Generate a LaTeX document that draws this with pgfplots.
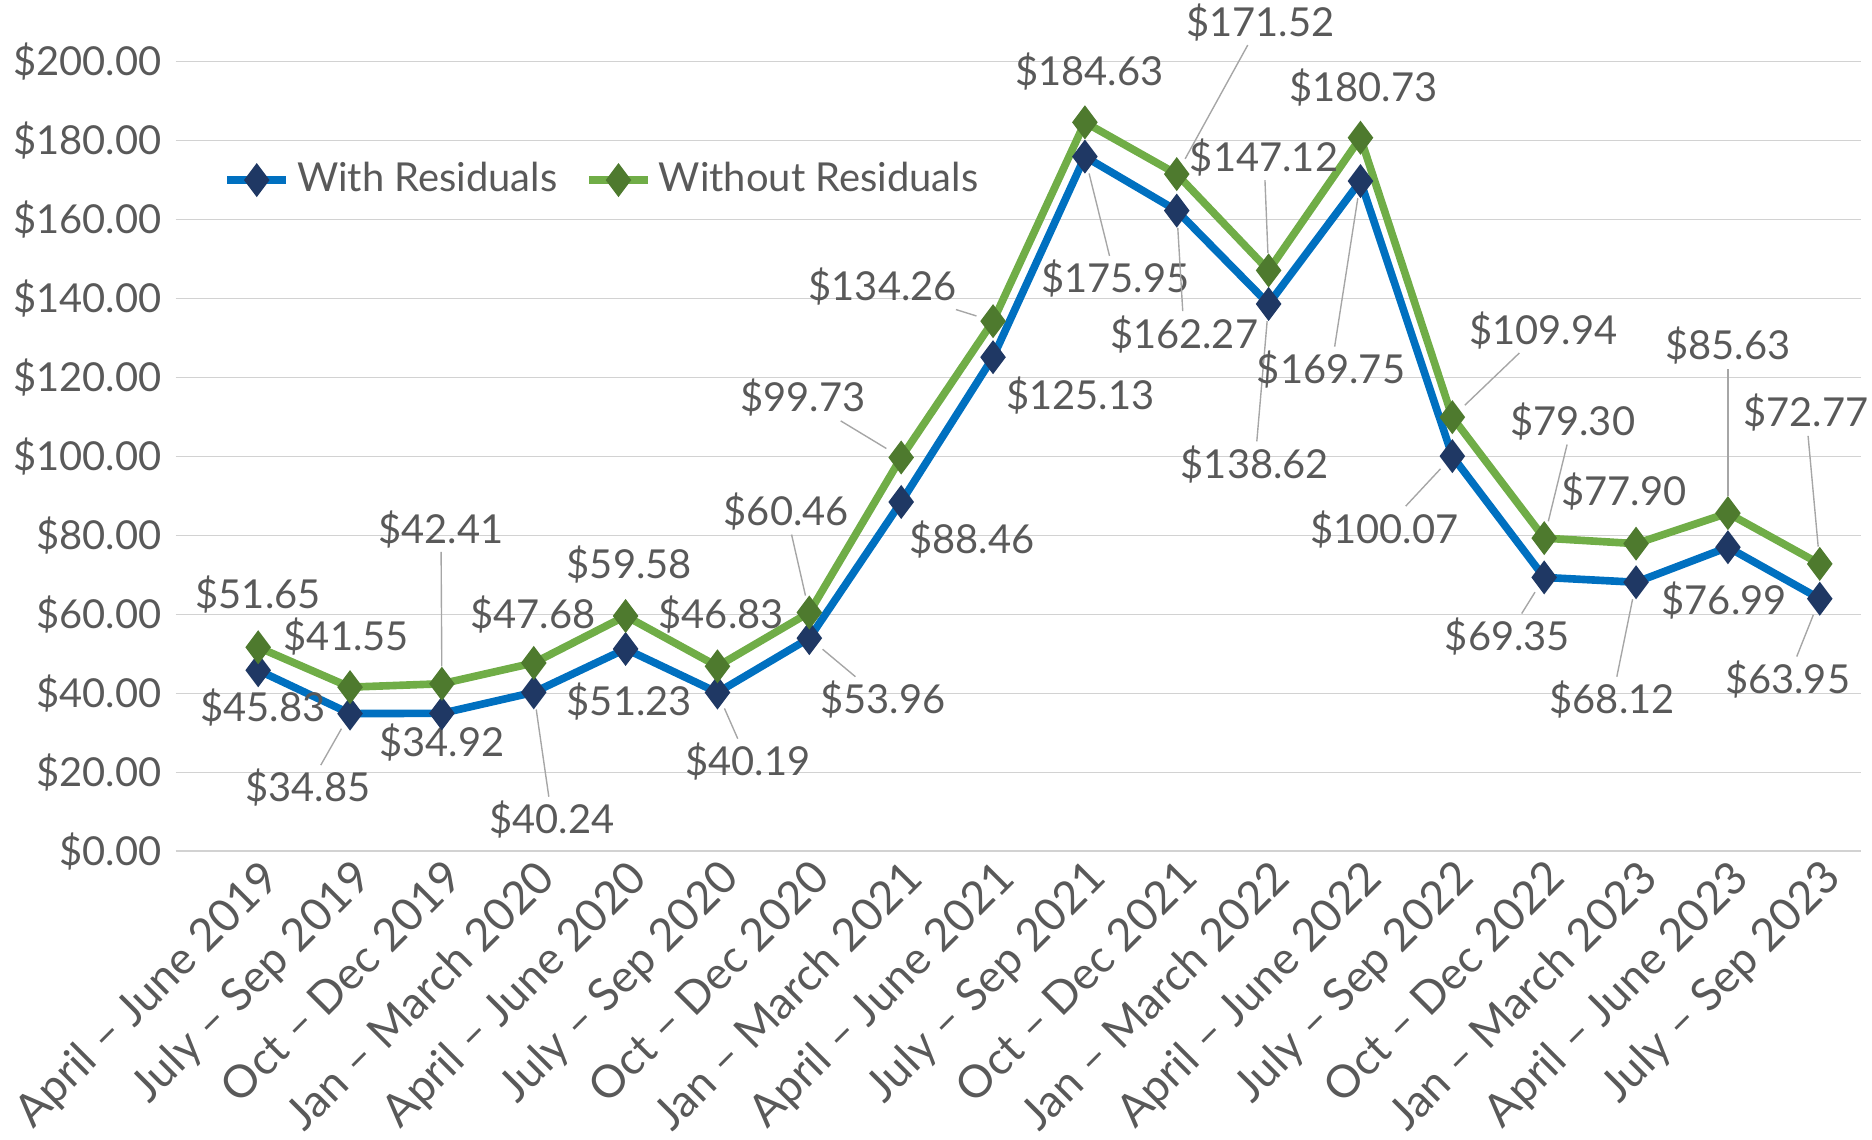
\documentclass[border=0pt]{standalone}
\usepackage{pgfplots}
\pgfplotsset{compat=1.18}
\usepackage{fontspec}
\setmainfont{Lato}
\definecolor{txt}{HTML}{595959}
\definecolor{cblue}{HTML}{0070C0}
\definecolor{cgreen}{HTML}{70AD47}
\definecolor{mblue}{HTML}{1F3864}
\definecolor{mgreen}{HTML}{4E7A2E}
\newcommand{\lb}[6]{\node[inner sep=1pt,text=txt] (n) at (axis cs:#3,#4) {\$#5};
\ifnum#6=1 \draw[gray!70,shorten <=5pt] (axis cs:#1,#2) -- (n);\fi}
\begin{document}
\begin{tikzpicture}
\fontsize{11.5}{13}\selectfont
\begin{axis}[scale only axis, width=17.08cm, height=8.0cm,
 xmin=-0.9, xmax=17.45, ymin=0, ymax=200, ytick={0,20,...,200},
 clip=false, axis line style={draw=none}, tick style={draw=none},
 ymajorgrids, grid style={gray!35},
 xtick={0,...,17},
 xticklabels={April – June 2019,July – Sep 2019,Oct – Dec 2019,Jan – March 2020,April – June 2020,July – Sep 2020,Oct – Dec 2020,Jan – March 2021,April – June 2021,July – Sep 2021,Oct – Dec 2021,Jan – March 2022,April – June 2022,July – Sep 2022,Oct – Dec 2022,Jan – March 2023,April – June 2023,July – Sep 2023},
 xticklabel style={rotate=45, anchor=north east, inner sep=1pt, text=txt, font=\fontsize{13}{14}\selectfont},
 yticklabel style={text=txt, font=\fontsize{11.5}{13}\selectfont},
 yticklabel={\$\pgfmathprintnumber[fixed,fixed zerofill,precision=2]{\tick}},
 /pgf/number format/assume math mode=true,
 legend style={draw=none, fill=none, at={(axis cs:-0.5,170)}, anchor=west, legend columns=2, text=txt, font=\fontsize{11.5}{13}\selectfont, /tikz/every even column/.append style={column sep=6pt}},
 ]
\addplot[cblue, line width=2.2pt, mark=diamond*, mark size=4.5pt, mark options={fill=mblue, draw=mblue, line width=0.5pt}] coordinates {
(0,45.83)(1,34.85)(2,34.92)(3,40.24)(4,51.23)(5,40.19)(6,53.96)(7,88.46)(8,125.13)(9,175.95)(10,162.27)(11,138.62)(12,169.75)(13,100.07)(14,69.35)(15,68.12)(16,76.99)(17,63.95)};
\addlegendentry{With Residuals}
\addplot[cgreen, line width=2.2pt, mark=diamond*, mark size=4.5pt, mark options={fill=mgreen, draw=mgreen, line width=0.5pt}] coordinates {
(0,51.65)(1,41.55)(2,42.41)(3,47.68)(4,59.58)(5,46.83)(6,60.46)(7,99.73)(8,134.26)(9,184.63)(10,171.52)(11,147.12)(12,180.73)(13,109.94)(14,79.30)(15,77.90)(16,85.63)(17,72.77)};
\addlegendentry{Without Residuals}
\lb{0}{45.83}{0.05}{36.5}{45.83}{0}
\lb{1}{34.85}{0.54}{16}{34.85}{1}
\lb{2}{34.92}{2.0}{27.5}{34.92}{0}
\lb{3}{40.24}{3.2}{8}{40.24}{1}
\lb{4}{51.23}{4.04}{38}{51.23}{0}
\lb{5}{40.19}{5.33}{22.7}{40.19}{1}
\lb{6}{53.96}{6.8}{38.4}{53.96}{1}
\lb{7}{88.46}{7.77}{79}{88.46}{0}
\lb{8}{125.13}{8.95}{115.4}{125.13}{0}
\lb{9}{175.95}{9.33}{145}{175.95}{1}
\lb{10}{162.27}{10.08}{131}{162.27}{1}
\lb{11}{138.62}{10.85}{98}{138.62}{1}
\lb{12}{169.75}{11.68}{122}{169.75}{1}
\lb{13}{100.07}{12.26}{81.6}{100.07}{1}
\lb{14}{69.35}{13.6}{54.4}{69.35}{1}
\lb{15}{68.12}{14.74}{38.4}{68.12}{1}
\lb{16}{76.99}{15.96}{63.4}{76.99}{0}
\lb{17}{63.95}{16.65}{43.5}{63.95}{1}
\lb{0}{51.65}{0}{65}{51.65}{0}
\lb{1}{41.55}{0.96}{54.4}{41.55}{0}
\lb{2}{42.41}{1.99}{81.6}{42.41}{1}
\lb{3}{47.68}{2.99}{60}{47.68}{0}
\lb{4}{59.58}{4.04}{72.5}{59.58}{0}
\lb{5}{46.83}{5.04}{60}{46.83}{0}
\lb{6}{60.46}{5.75}{86}{60.46}{1}
\lb{7}{99.73}{5.93}{114.8}{99.73}{1}
\lb{8}{134.26}{6.8}{143}{134.26}{1}
\lb{9}{184.63}{9.05}{197.6}{184.63}{0}
\lb{10}{171.52}{10.91}{210}{171.52}{1}
\lb{11}{147.12}{10.95}{175.8}{147.12}{1}
\lb{12}{180.73}{12.03}{193.4}{180.73}{0}
\lb{13}{109.94}{13.99}{132}{109.94}{1}
\lb{14}{79.30}{14.31}{108.8}{79.30}{1}
\lb{15}{77.90}{14.87}{91.2}{77.90}{0}
\lb{16}{85.63}{16.0}{128}{85.63}{1}
\lb{17}{72.77}{16.85}{111}{72.77}{1}
\end{axis}
\end{tikzpicture}
\end{document}
